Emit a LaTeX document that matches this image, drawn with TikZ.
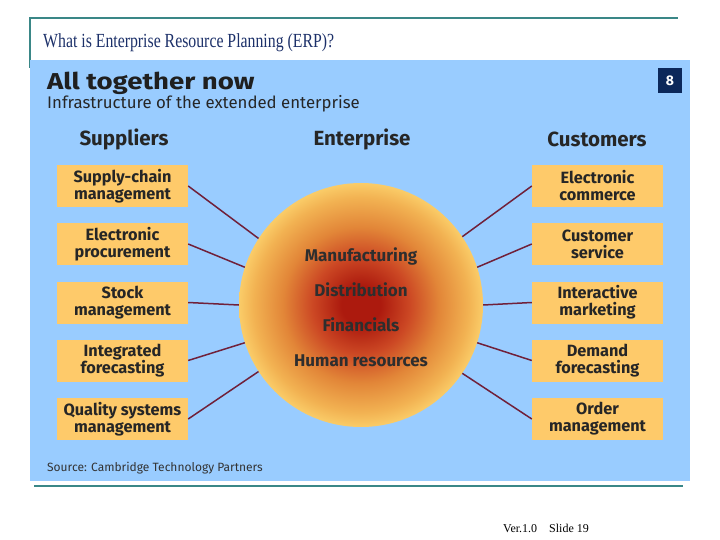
\documentclass[tikz,border=0pt]{standalone}
\usepackage{fontspec}
\setmainfont{Liberation Serif}
\setsansfont{Fira Sans}
\usepackage{xcolor}
\usepackage{tikz}
\usetikzlibrary{positioning}
\definecolor{slideteal}{RGB}{58,135,135}
\definecolor{slidenavy}{RGB}{28,48,105}
\definecolor{panelblue}{RGB}{153,204,255}
\definecolor{boxorange}{RGB}{254,202,106}
\definecolor{linkred}{RGB}{112,32,58}
\definecolor{badgenavy}{RGB}{12,40,90}
\definecolor{ballcore}{RGB}{172,26,14}
\definecolor{ballred}{RGB}{204,72,36}
\definecolor{ballorange}{RGB}{226,134,56}
\definecolor{ballyellow}{RGB}{242,178,82}
\definecolor{ballrim}{RGB}{250,204,104}
\pgfdeclareradialshading{entball}{\pgfpoint{0bp}{0bp}}{color(0bp)=(ballcore);color(4bp)=(ballcore);color(10bp)=(ballred);color(16bp)=(ballorange);color(22bp)=(ballyellow);color(25bp)=(ballrim);color(50bp)=(ballrim)}
\tikzset{
  sidebox/.style={fill=boxorange,minimum width=131pt,minimum height=42pt,inner sep=0pt,align=center,
    font=\sffamily\bfseries\fontsize{16.3}{17}\selectfont,text=black!85},
  colhead/.style={font=\sffamily\bfseries\fontsize{20.5}{22}\selectfont,text=black!85},
  insidetext/.style={font=\sffamily\bfseries\fontsize{17}{18}\selectfont,text=black!82},
  link/.style={draw=linkred,line width=1.5pt}
}

\begin{document}
\begin{tikzpicture}[x=1pt,y=-1pt]
\useasboundingbox (0,0) rectangle (720,540);
% slide frame
\draw[slideteal,line width=2pt](30,68)--(30,18)--(678,18);
\node[anchor=base west,inner sep=0pt,text=slidenavy,font=\fontsize{20}{22}\selectfont] (title) at (43,48) {\scalebox{0.79}[1]{What is Enterprise Resource Planning (ERP)?}};
\fill[panelblue](30,60) rectangle (690,481);
\draw[slideteal,line width=2pt](34,486)--(683,486);
\node[anchor=base west,inner sep=0pt,font=\fontsize{12}{13}\selectfont] (ver) at (503,532) {Ver.1.0\quad Slide 19};
% headings
\node[anchor=base west,inner sep=0pt,font=\sffamily\bfseries\fontsize{23}{26}\selectfont,text=black!88] (head) at (47,90) {\scalebox{1.2}[1]{All together now}};
\node[anchor=base west,inner sep=0pt,font=\sffamily\fontsize{16.8}{18}\selectfont,text=black!85] (sub) at (47,109) {Infrastructure of the extended enterprise};
\node[fill=badgenavy,minimum width=24pt,minimum height=25pt,inner sep=0pt,text=white,font=\sffamily\bfseries\fontsize{14}{14}\selectfont] (badge) at (670,80.5) {8};
\node[colhead] (suppliers) at (124,139) {Suppliers};
\node[colhead] (enterprise) at (362,139) {Enterprise};
\node[colhead] (customers) at (597,139) {Customers};
% enterprise
\node[circle,minimum size=244pt,inner sep=0pt,shading=entball] (ent) at (361,305) {};
\node[insidetext] (manu) at (361,256) {Manufacturing};
\node[insidetext] (dist) at (361,290) {Distribution};
\node[insidetext] (fin) at (361,325) {Financials};
\node[insidetext] (hr) at (361,361) {Human resources};
% suppliers
\node[sidebox] (s1) at (122.5,186) {Supply-chain\\management};
\node[sidebox] (s2) at (122.5,244) {Electronic\\procurement};
\node[sidebox] (s3) at (122.5,302.5) {Stock\\management};
\node[sidebox] (s4) at (122.5,360.5) {Integrated\\forecasting};
\node[sidebox] (s5) at (122.5,419) {Quality systems\\management};
% customers
\node[sidebox] (c1) at (597.5,186) {Electronic\\commerce};
\node[sidebox] (c2) at (597.5,244) {Customer\\service};
\node[sidebox] (c3) at (597.5,302.5) {Interactive\\marketing};
\node[sidebox] (c4) at (597.5,360.5) {Demand\\forecasting};
\node[sidebox] (c5) at (597.5,419) {Order\\management};
% links
\draw[link](s1.east)--(ent.147);
\draw[link](s2.east)--(ent.162);
\draw[link](s3.east)--(ent.180);
\draw[link](s4.east)--(ent.198);
\draw[link](s5.east)--(ent.213);
\draw[link](c1.west)--(ent.34);
\draw[link](c2.west)--(ent.18);
\draw[link](c3.west)--(ent.0);
\draw[link](c4.west)--(ent.-18);
\draw[link](c5.west)--(ent.-34);
\node[anchor=base west,inner sep=0pt,font=\sffamily\fontsize{12}{13}\selectfont,text=black!80] (source) at (47,471) {Source: Cambridge Technology Partners};
\end{tikzpicture}
\end{document}
